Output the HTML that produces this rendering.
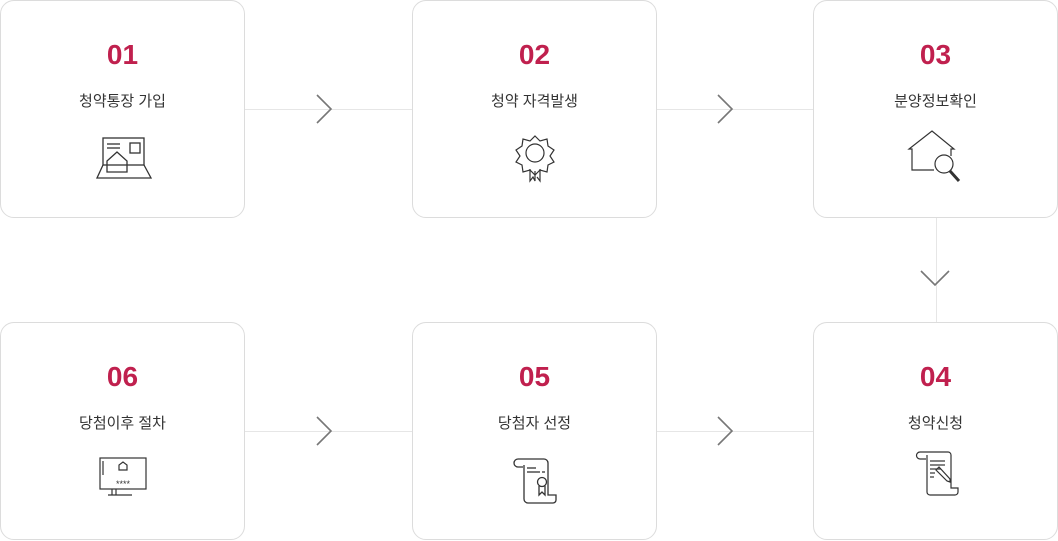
<!DOCTYPE html>
<html><head><meta charset="utf-8"><style>
body{margin:0;width:1058px;height:540px;background:#fff;position:relative;overflow:hidden;font-family:"Liberation Sans","Noto Sans CJK KR",sans-serif}
.b{position:absolute;width:243px;height:216px;border:1px solid #dcdcdc;border-radius:14px;background:#fff;box-sizing:content-box}
.n{position:absolute;left:0;right:0;text-align:center;top:38px;font-size:28px;color:#c0204e;font-weight:bold}
.t{position:absolute;left:0;right:0;text-align:center;top:89px;font-size:15px;color:#333}
.i{position:absolute;left:0;top:0}
svg.l{position:absolute;left:0;top:0}
</style></head><body>
<svg class="l" width="1058" height="540">
<g stroke="#e6e6e6" stroke-width="1">
<line x1="245" y1="109.5" x2="412" y2="109.5"/><line x1="657" y1="109.5" x2="813" y2="109.5"/>
<line x1="245" y1="431.5" x2="412" y2="431.5"/><line x1="657" y1="431.5" x2="813" y2="431.5"/>
<line x1="936.5" y1="218" x2="936.5" y2="322"/>
</g>
<g stroke="#777" stroke-width="1.6" fill="none">
<polyline points="317,95 331,109 317,123"/><polyline points="718,95 732,109 718,123"/>
<polyline points="317,417 331,431 317,445"/><polyline points="718,417 732,431 718,445"/>
<polyline points="921,271 935,285 949,271"/>
</g>
</svg>
<div class="b" style="left:0;top:0"><div class="n">01</div><div class="t">청약통장 가입</div>
<svg class="i" width="245" height="218"><g fill="none" stroke="#333" stroke-width="1.3">
<rect x="102" y="137" width="41" height="27"/><line x1="106" y1="143" x2="119" y2="143"/><line x1="106" y1="147" x2="119" y2="147"/><rect x="129" y="142" width="10" height="10"/>
<polygon points="106,160 116,151 126,160 126,171 106,171"/><polyline points="102,164 96,177 150,177 143,164"/></g></svg></div>
<div class="b" style="left:412px;top:0"><div class="n">02</div><div class="t">청약 자격발생</div>
<svg class="i" width="245" height="218"><g fill="none" stroke="#333" stroke-width="1.2">
<polygon points="122,135 127,140 134,138 135,145 141,149 137,155 141,161 135,164 134,171 127,169 122,174 117,169 110,171 109,164 103,161 107,155 103,149 109,145 110,138 117,140"/>
<circle cx="122" cy="152" r="9"/><polyline points="117,168 117,180 120,176 122,180 122,170"/><polyline points="127,168 127,180 124,176"/></g></svg></div>
<div class="b" style="left:813px;top:0"><div class="n">03</div><div class="t">분양정보확인</div>
<svg class="i" width="245" height="218"><g fill="none" stroke="#333" stroke-width="1.2">
<polyline points="120,169 98,169 98,148 95,148 118,130 140,148 137,148 137,155"/>
<circle cx="130" cy="163" r="9"/><line x1="136" y1="170" x2="145" y2="180" stroke-width="3"/></g></svg></div>
<div class="b" style="left:0;top:322px"><div class="n">06</div><div class="t">당첨이후 절차</div>
<svg class="i" width="245" height="218"><g fill="none" stroke="#333" stroke-width="1.2">
<rect x="99" y="135" width="46" height="31"/><line x1="111" y1="166" x2="111" y2="172"/><line x1="115" y1="166" x2="115" y2="172"/><line x1="107" y1="172" x2="131" y2="172"/>
<polygon points="118,147 118,142 122,139 126,142 126,147"/><line x1="102" y1="138" x2="102" y2="152"/></g>
<text x="122" y="164" text-anchor="middle" font-size="9" fill="#333">****</text></svg></div>
<div class="b" style="left:412px;top:322px"><div class="n">05</div><div class="t">당첨자 선정</div>
<svg class="i" width="245" height="218"><g fill="none" stroke="#333" stroke-width="1.3">
<path d="M105,136 h26 a4,4 0 0 1 4,4 v32 h8 v5 a3,3 0 0 1 -3,3 h-25 a4,4 0 0 1 -4,-4 v-34 M105,136 a4,4 0 0 0 0,8 h5"/>
<line x1="114" y1="145" x2="123" y2="145"/><line x1="114" y1="149" x2="127" y2="149"/><line x1="129" y1="149" x2="132" y2="149"/>
<circle cx="129" cy="159" r="4.5"/><polyline points="126,163 126,172 129,169 132,172 132,163"/></g></svg></div>
<div class="b" style="left:813px;top:322px"><div class="n">04</div><div class="t">청약신청</div>
<svg class="i" width="245" height="218"><g fill="none" stroke="#333" stroke-width="1.2">
<path d="M106,129 h28 a3,3 0 0 1 3,3 v33 h7 v4 a3,3 0 0 1 -3,3 h-25 a3,3 0 0 1 -3,-3 v-37 M106,129 a3,3 0 0 0 0,7 h6"/>
<line x1="116" y1="138" x2="131" y2="138"/><line x1="116" y1="142" x2="131" y2="142"/><line x1="116" y1="146" x2="127" y2="146"/><line x1="116" y1="150" x2="121" y2="150"/><line x1="116" y1="154" x2="120" y2="154"/>
<polygon points="122,147 125,144 136,156 136,159 133,158"/></g></svg></div>
</body></html>
